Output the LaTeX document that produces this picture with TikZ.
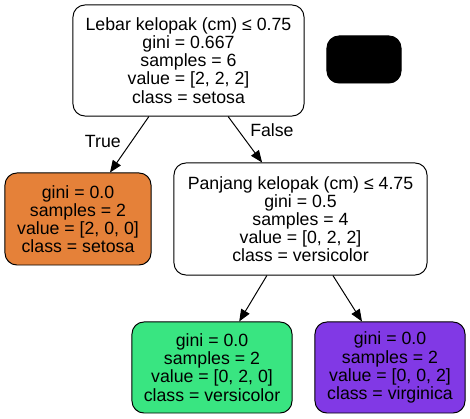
\documentclass[tikz,border=0pt]{standalone}
\usepackage{fontspec}
\setmainfont{Liberation Sans}
\usetikzlibrary{arrows.meta}

\definecolor{setosa}{HTML}{E58139}
\definecolor{versicolor}{HTML}{39E581}
\definecolor{virginica}{HTML}{8139E5}

\begin{document}
\begin{tikzpicture}[x=0.025cm,y=-0.025cm,
		every node/.style={font=\fontsize{12.6}{12.9}\selectfont},
		box/.style={draw,line width=0.7pt,rounded corners=0.3cm,align=center,inner sep=0pt},
		edge/.style={line width=0.7pt,-{Triangle[length=0.3cm,width=0.24cm]}}]
			%\draw[help lines] (0,0) grid (470,419);
			\useasboundingbox (0,0) rectangle (470,419);

			\node[box,minimum width=5.775cm,minimum height=2.775cm] (root) at (188.5,60.5)
				{Lebar kelopak (cm) ≤ 0.75\\gini = 0.667\\samples = 6\\value = [2, 2, 2]\\class = setosa};
			\node[box,fill=black,minimum width=1.85cm,minimum height=1.175cm] (blank) at (364,59.5) {};

			\node[box,fill=setosa,minimum width=3.65cm,minimum height=2.3cm] (left) at (78,219)
				{gini = 0.0\\samples = 2\\value = [2, 0, 0]\\class = setosa};
			\node[box,minimum width=6.325cm,minimum height=2.8cm] (mid) at (300.5,219)
				{Panjang kelopak (cm) ≤ 4.75\\gini = 0.5\\samples = 4\\value = [0, 2, 2]\\class = versicolor};

			\node[box,fill=versicolor,minimum width=4cm,minimum height=2.275cm] (green) at (212,367.5)
				{gini = 0.0\\samples = 2\\value = [0, 2, 0]\\class = versicolor};
			\node[box,fill=virginica,minimum width=3.75cm,minimum height=2.275cm] (purple) at (390,367.5)
				{gini = 0.0\\samples = 2\\value = [0, 0, 2]\\class = virginica};

			\draw[edge] ([xshift=-0.99cm]root.south) -- ([xshift=0.8cm]left.north)
				node[midway,left=2.5pt,yshift=2pt] {True};
			\draw[edge] ([xshift=0.99cm]root.south) -- ([xshift=-0.96cm]mid.north)
				node[midway,right=0pt,yshift=6.5pt] {False};

			\draw[edge] ([xshift=-0.84cm]mid.south) -- ([xshift=0.68cm]green.north);
			\draw[edge] ([xshift=0.81cm]mid.south) -- ([xshift=-0.7cm]purple.north);
		\end{tikzpicture}
\end{document}
